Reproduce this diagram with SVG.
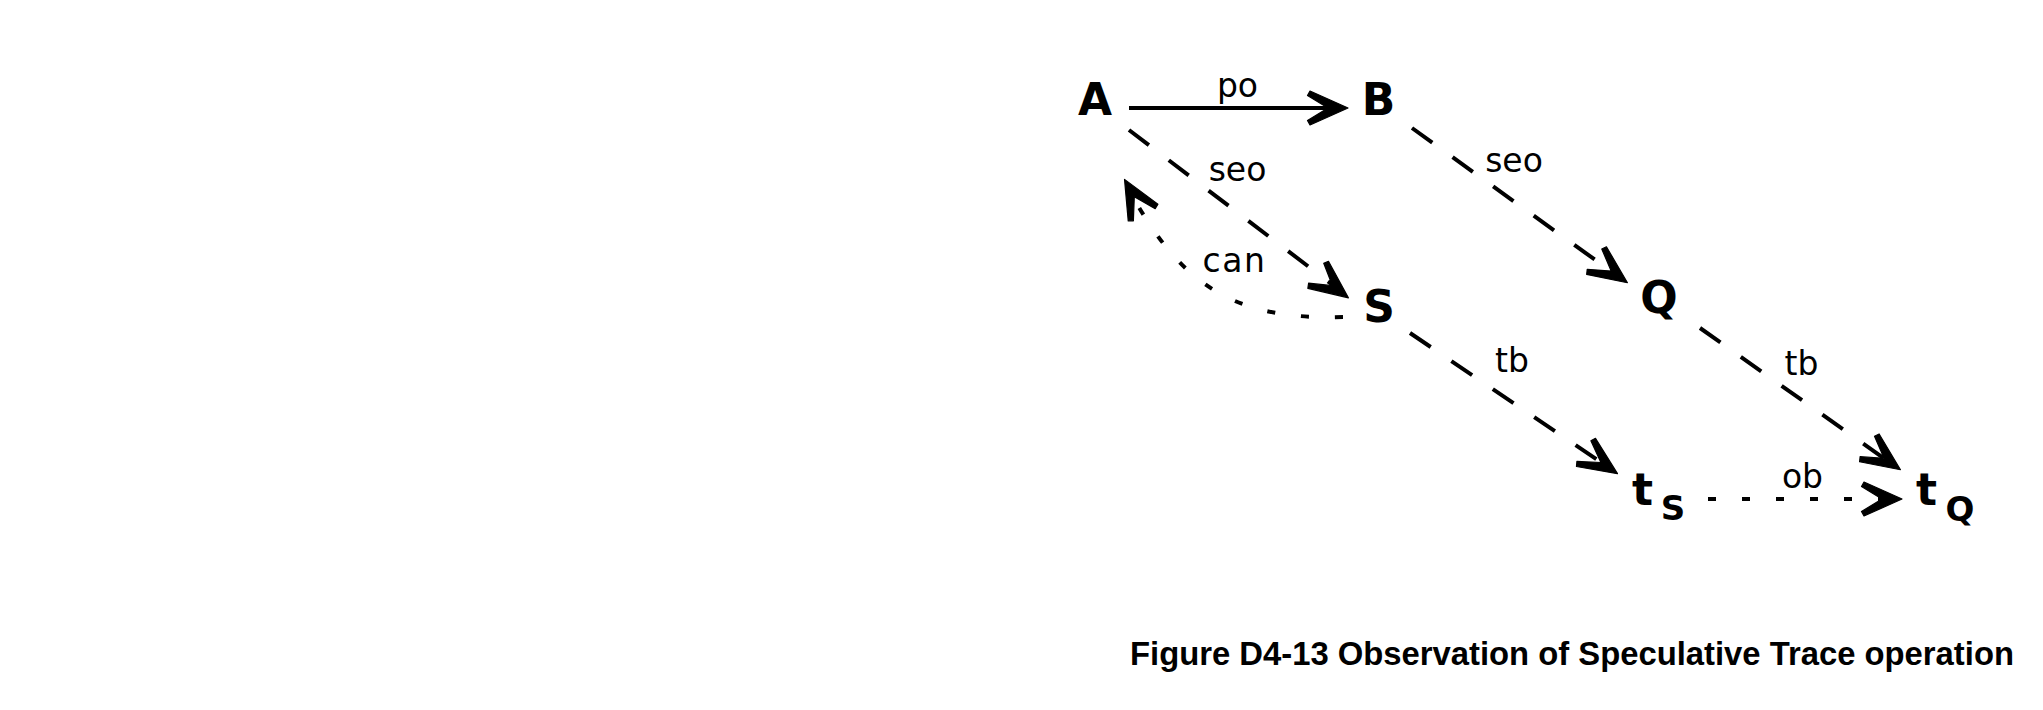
<svg xmlns="http://www.w3.org/2000/svg" xmlns:xlink="http://www.w3.org/1999/xlink" width="2043" height="710" viewBox="0 0 2043 710">
<style>
.node{font-family:"DejaVu Sans",Verdana,sans-serif;font-weight:bold;font-size:44px;fill:#000;text-anchor:middle}
.sub{font-size:34px}
.lbl{font-family:"DejaVu Sans",Verdana,sans-serif;font-size:33px;fill:#000;text-anchor:middle}
.ln{fill:none;stroke:#000;stroke-width:4}
.dash{stroke-dasharray:25 25}
.dot{stroke-dasharray:8 26}
.cap{font-family:"Liberation Sans",Arial,sans-serif;font-weight:bold;font-size:32.8px;fill:#000}
</style>
<defs>
<path id="ah" d="M3,0 L-35,-17 L-37.5,-12.5 L-17,0 L-37.5,12.5 L-35,17 Z" fill="#000" stroke="#000" stroke-width="1.2" stroke-linejoin="round"/>
</defs>
<rect width="2043" height="710" fill="#fff"/>
<g id="connectors">
  <g id="e-po">
    <line class="ln" x1="1129" y1="108" x2="1330" y2="108"/>
    <use xlink:href="#ah" transform="translate(1345,108)"/>
    <text class="lbl" x="1237.5" y="97">po</text>
  </g>
  <g id="e-seo1">
    <line class="ln dash" x1="1129" y1="130" x2="1334" y2="286"/>
    <use xlink:href="#ah" transform="translate(1346,296) rotate(37.3)"/>
    <text class="lbl" x="1237.5" y="181">seo</text>
  </g>
  <g id="e-can">
    <path class="ln dot" d="M1343,317 C1240,320 1185,290 1133,197"/>
    <use xlink:href="#ah" transform="translate(1126,182) rotate(-119.2)"/>
    <text class="lbl" x="1234.5" y="272" letter-spacing="1.5">can</text>
  </g>
  <g id="e-seo2">
    <line class="ln dash" x1="1412" y1="128" x2="1612" y2="272"/>
    <use xlink:href="#ah" transform="translate(1625,281) rotate(35.6)"/>
    <text class="lbl" x="1514" y="172">seo</text>
  </g>
  <g id="e-tb1">
    <line class="ln dash" x1="1410" y1="333" x2="1602" y2="463"/>
    <use xlink:href="#ah" transform="translate(1615,472) rotate(34)"/>
    <text class="lbl" x="1512" y="372">tb</text>
  </g>
  <g id="e-tb2">
    <line class="ln dash" x1="1700" y1="328" x2="1885" y2="459"/>
    <use xlink:href="#ah" transform="translate(1898,468) rotate(35.1)"/>
    <text class="lbl" x="1801.5" y="375">tb</text>
  </g>
  <g id="e-ob">
    <line class="ln dot" x1="1708" y1="499" x2="1885" y2="499"/>
    <use xlink:href="#ah" transform="translate(1899,499)"/>
    <text class="lbl" x="1802.5" y="488">ob</text>
  </g>
</g>
<g id="node-A"><text class="node" x="1095" y="115">A</text></g>
<g id="node-B"><text class="node" x="1378.5" y="115">B</text></g>
<g id="node-S"><text class="node" x="1379" y="322">S</text></g>
<g id="node-Q"><text class="node" x="1659" y="313">Q</text></g>
<g id="node-tS"><text class="node" x="1642.5" y="505">t</text><text class="node sub" x="1673" y="520">S</text></g>
<g id="node-tQ"><text class="node" x="1926.5" y="505">t</text><text class="node sub" x="1960" y="521">Q</text></g>
<g id="caption"><text class="cap" x="1130" y="665">Figure D4-13 Observation of Speculative Trace operation</text></g>
</svg>
